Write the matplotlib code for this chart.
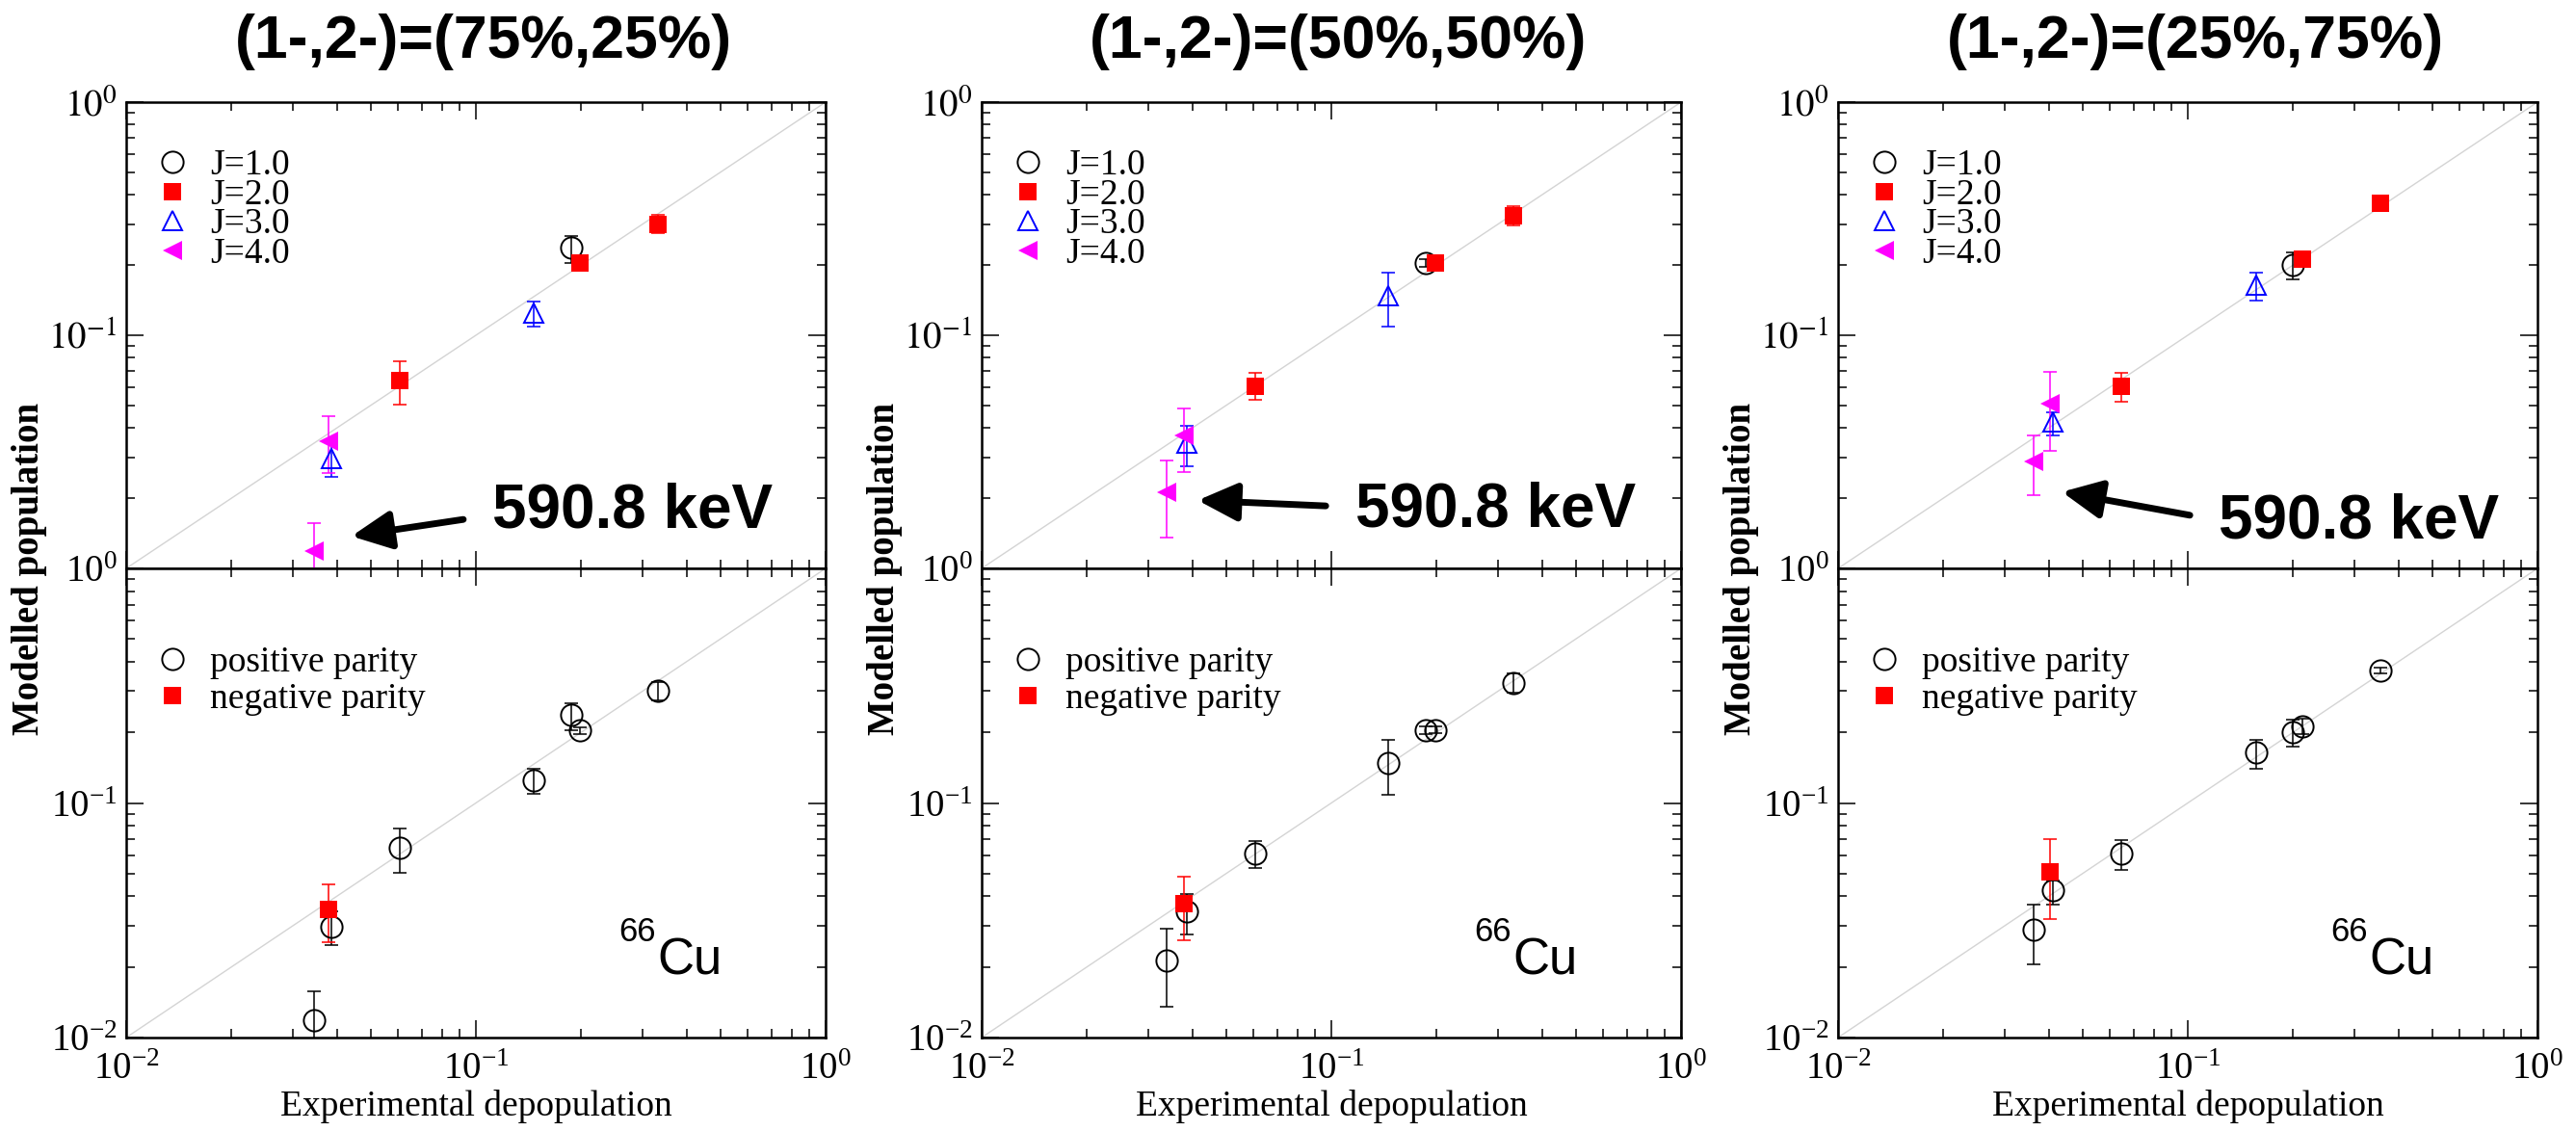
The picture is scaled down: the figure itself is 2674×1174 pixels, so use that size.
import numpy as np
import matplotlib
matplotlib.use('Agg')
from matplotlib import pyplot as plt

plt.rcParams['font.family'] = 'Liberation Serif'
plt.rcParams['mathtext.fontset'] = 'stix'

titles = ['(1-,2-)=(75%,25%)', '(1-,2-)=(50%,50%)', '(1-,2-)=(25%,75%)']
spin_labels = ['J=1.0', 'J=2.0', 'J=3.0', 'J=4.0']
parity_labels = ['positive parity', 'negative parity']

# one entry per level, same order in every scenario
level_J = [1, 2, 2, 2, 3, 3, 4, 4]
level_parity = [1, 1, 1, 1, 1, 1, -1, 1]

# (1-,2-) = (75%,25%)
exp75 = [0.1875, 0.1987, 0.332, 0.0606, 0.1463, 0.0385, 0.0378, 0.0344]
mod75 = [0.237, 0.2035, 0.300, 0.0642, 0.1245, 0.0296, 0.0352, 0.0119]
lo75 = [0.204, 0.197, 0.273, 0.0505, 0.109, 0.0247, 0.0256, 0.0081]
hi75 = [0.266, 0.210, 0.327, 0.0777, 0.140, 0.0345, 0.0448, 0.0157]

# (1-,2-) = (50%,50%)
exp50 = [0.1866, 0.1979, 0.332, 0.0606, 0.1457, 0.0385, 0.0378, 0.0339]
mod50 = [0.2048, 0.205, 0.325, 0.0606, 0.148, 0.0344, 0.0371, 0.0213]
lo50 = [0.197, 0.198, 0.296, 0.0529, 0.1087, 0.0274, 0.026, 0.0135]
hi50 = [0.213, 0.212, 0.358, 0.0688, 0.185, 0.041, 0.0484, 0.0291]

# (1-,2-) = (25%,75%)
exp25 = [0.1996, 0.2131, 0.3563, 0.0645, 0.1567, 0.0412, 0.0403, 0.0362]
mod25 = [0.2003, 0.2114, 0.367, 0.0606, 0.164, 0.0423, 0.0507, 0.0288]
lo25 = [0.174, 0.196, 0.357, 0.052, 0.1405, 0.037, 0.032, 0.0206]
hi25 = [0.2274, 0.228, 0.378, 0.0692, 0.185, 0.0469, 0.0699, 0.037]

scenarios = [(exp75, mod75, lo75, hi75),
             (exp50, mod50, lo50, hi50),
             (exp25, mod25, lo25, hi25)]

lims = [1e-2, 1e0]

# arrow (tip, tail) and label position for the 590.8 keV level, axes fraction
arrow_tip = [(0.322, 0.069), (0.309, 0.146), (0.320, 0.164)]
arrow_tail = [(0.482, 0.105), (0.492, 0.134), (0.503, 0.114)]
kev_pos = [(0.523, 0.087), (0.534, 0.090), (0.544, 0.066)]

spin_style = {
    1: dict(marker='o', mfc='none', mec='k', color='k', ms=16, mew=1.4),
    2: dict(marker='s', mfc='red', mec='red', color='red', ms=13, mew=0),
    3: dict(marker='^', mfc='none', mec='blue', color='blue', ms=15, mew=1.4),
    4: dict(marker='<', mfc='magenta', mec='magenta', color='magenta', ms=15, mew=0),
}
parity_style = {
    1: spin_style[1],
    -1: spin_style[2],
}

W, H = 2674, 1174
fig = plt.figure(figsize=(W / 100, H / 100), dpi=100)

lefts = [131, 1019, 1908]
ax_w = 726
top_y, mid_y, bot_y = 106, 590, 1077


def style_axes(ax):
    ax.set_xscale('log')
    ax.set_yscale('log')
    ax.set_xlim(lims)
    ax.set_ylim(lims)
    ax.plot(lims, lims, color='#d4d4d4', lw=1.0, zorder=1)
    ax.tick_params(which='both', direction='in', top=True, right=True,
                   width=1.1, labelsize=28)
    ax.tick_params(which='major', length=13)
    ax.tick_params(which='minor', length=6.5)
    ax.tick_params(axis='x', pad=11)
    ax.tick_params(axis='y', pad=7)
    for s in ax.spines.values():
        s.set_linewidth(1.8)


def draw_group(ax, x, y, lo, hi, st, label):
    x = np.array(x)
    y = np.array(y)
    err = [y - np.array(lo), np.array(hi) - y]
    ax.errorbar(x, y, yerr=err, fmt='none', ecolor=st['color'],
                elinewidth=1.1, capsize=5, capthick=1.1, zorder=3)
    ax.plot(x, y, ls='none', marker=st['marker'], ms=st['ms'], mfc=st['mfc'],
            mec=st['mec'], mew=st['mew'], label=label, zorder=4)


for i in range(3):
    ex, mo, lo, hi = scenarios[i]
    L = lefts[i] / W
    axt = fig.add_axes([L, 1 - mid_y / H, ax_w / W, (mid_y - top_y) / H])
    axb = fig.add_axes([L, 1 - bot_y / H, ax_w / W, (bot_y - mid_y) / H])
    style_axes(axt)
    style_axes(axb)

    # top: by spin
    for J, lab in zip([1, 2, 3, 4], spin_labels):
        idx = [k for k in range(len(level_J)) if level_J[k] == J]
        draw_group(axt, [ex[k] for k in idx], [mo[k] for k in idx],
                   [lo[k] for k in idx], [hi[k] for k in idx],
                   spin_style[J], lab)
    # bottom: by parity
    for p, lab in zip([1, -1], parity_labels):
        idx = [k for k in range(len(level_parity)) if level_parity[k] == p]
        draw_group(axb, [ex[k] for k in idx], [mo[k] for k in idx],
                   [lo[k] for k in idx], [hi[k] for k in idx],
                   parity_style[p], lab)

    axt.set_yticks([1e-2, 1e-1, 1e0], ['', r'$10^{-1}$', r'$10^{0}$'])
    axt.tick_params(axis='x', labelbottom=False)
    axb.set_xlabel('Experimental depopulation', fontsize=27, labelpad=1)

    axt.legend(loc='upper left', bbox_to_anchor=(0.040, 0.90), frameon=False,
               fontsize=27, borderpad=0, borderaxespad=0, handlelength=1.0,
               handletextpad=0.55, labelspacing=-0.1, numpoints=1)
    axb.legend(loc='upper left', bbox_to_anchor=(0.040, 0.835), frameon=False,
               fontsize=27, borderpad=0, borderaxespad=0, handlelength=1.0,
               handletextpad=0.55, labelspacing=0.1, numpoints=1)

    axt.annotate('', xy=arrow_tip[i], xytext=arrow_tail[i],
                 xycoords='axes fraction', textcoords='axes fraction',
                 arrowprops=dict(arrowstyle='-|>,head_length=1.25,head_width=0.6',
                                 mutation_scale=20, lw=5, color='k',
                                 shrinkA=0, shrinkB=0))
    axt.text(kev_pos[i][0], kev_pos[i][1], '590.8 keV', transform=axt.transAxes,
             family='Liberation Sans', weight='bold', fontsize=46,
             ha='left', va='baseline')

    axb.text(0.704, 0.205, '66', transform=axb.transAxes,
             family='Liberation Sans', fontsize=25, ha='left', va='baseline')
    axb.text(0.760, 0.1355, 'Cu', transform=axb.transAxes,
             family='Liberation Sans', fontsize=38, ha='left', va='baseline')

    cx = (lefts[i] + ax_w / 2 + 7.5) / W
    fig.text(cx, 1 - 60 / H, titles[i], family='Liberation Sans',
             weight='bold', fontsize=45, ha='center', va='baseline')
    fig.text((lefts[i] - 100) / W, 1 - mid_y / H, 'Modelled population',
             rotation=90, weight='bold', fontsize=28, ha='center', va='center')

fig.savefig('out.png', dpi=100)
